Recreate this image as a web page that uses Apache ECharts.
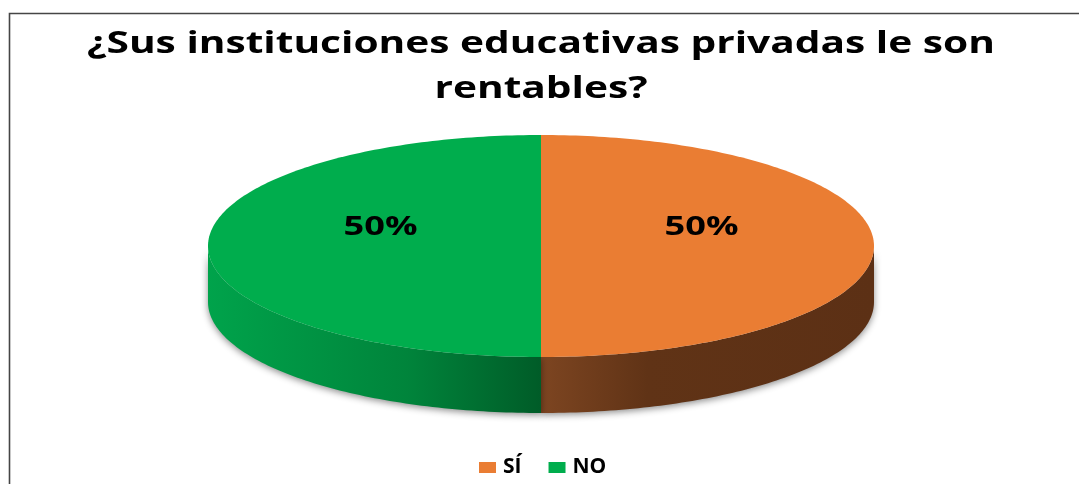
<!DOCTYPE html>
<html>
<head>
<meta charset="utf-8">
<script src="https://cdn.jsdelivr.net/npm/echarts@6/dist/echarts.min.js"></script>
<style>
  html, body { margin: 0; padding: 0; background: #ffffff; }
  #chart { width: 1079px; height: 484px; }
</style>
</head>
<body>
<div id="chart"></div>
<script>
// Survey answers
const titleLines = ['¿Sus instituciones educativas privadas le son', 'rentables?'];
const categories = ['SÍ', 'NO'];
const values = [50, 50];

// Palette: top face and side wall gradient stops for each answer
const topColors = ['#EA7D33', '#00AD4D'];
const sideStops = [
  ['#7D4521', '#603316', '#5C3015'],
  ['#00A34B', '#00843B', '#005C28']
];

// Tilted-disc geometry
const geo = { cx: 541, cy: 246, rx: 333, ry: 111, depth: 56 };
const FONT = '"Open Sans", "DejaVu Sans", sans-serif';
const STRETCH = 1.34;

function arcPoints(a0, a1, dy) {
  const pts = [];
  const n = Math.max(2, Math.ceil(Math.abs(a1 - a0) / (Math.PI / 180)));
  for (let k = 0; k <= n; k++) {
    const t = a0 + (a1 - a0) * k / n;
    pts.push([geo.cx + geo.rx * Math.cos(t), geo.cy + geo.ry * Math.sin(t) + dy]);
  }
  return pts;
}

function renderSlice(i, v) {
  const total = values.reduce((s, x) => s + x, 0);
  let before = 0;
  for (let k = 0; k < i; k++) before += values[k];
  const start = -Math.PI / 2 + 2 * Math.PI * before / total;
  const end = start + 2 * Math.PI * v / total;
  const children = [];

  // front wall: the part of the rim facing the viewer (angles 0..PI)
  const a = Math.max(start, 0), b = Math.min(end, Math.PI);
  if (b > a) {
    const upper = arcPoints(a, b, 0);
    const lower = arcPoints(b, a, geo.depth);
    const st = sideStops[i];
    children.push({
      type: 'polygon',
      z2: 1,
      shape: { points: upper.concat(lower) },
      style: {
        fill: {
          type: 'linear', x: 0, y: 0, x2: 1, y2: 0,
          colorStops: i === 0
            ? [{ offset: 0, color: st[0] }, { offset: 0.32, color: st[1] }, { offset: 1, color: st[2] }]
            : [{ offset: 0, color: st[0] }, { offset: 0.6, color: st[1] }, { offset: 1, color: st[2] }]
        },
        shadowColor: 'rgba(0,0,0,0.45)',
        shadowBlur: 7,
        shadowOffsetY: 2
      }
    });
  }

  // top face
  children.push({
    type: 'polygon',
    z2: 2,
    shape: { points: [[geo.cx, geo.cy]].concat(arcPoints(start, end, 0)) },
    style: { fill: topColors[i] }
  });

  // percentage label
  const mid = (start + end) / 2;
  children.push({
    type: 'text',
    z2: 3,
    x: geo.cx + 0.482 * geo.rx * Math.cos(mid),
    y: geo.cy + 0.482 * geo.ry * Math.sin(mid) - 19,
    scaleX: STRETCH,
    style: {
      text: Math.round(v / total * 100) + '%',
      align: 'center',
      verticalAlign: 'middle',
      font: 'bold 27px ' + FONT,
      fill: '#000000'
    }
  });

  return { type: 'group', children };
}

const chart = echarts.init(document.getElementById('chart'), null, { renderer: 'canvas' });

chart.setOption({
  backgroundColor: '#ffffff',
  animation: false,
  legend: {
    data: categories,
    left: 479,
    top: 457,
    padding: 0,
    icon: 'rect',
    itemWidth: 17,
    itemHeight: 11,
    itemGap: 27,
    textStyle: { fontFamily: FONT, fontWeight: 'bold', fontSize: 21, color: '#000000', padding: [0, 0, 0, 2] }
  },
  graphic: [
    {
      type: 'rect',
      silent: true,
      shape: { x: 9.5, y: 13.5, width: 1200, height: 600 },
      style: { fill: 'none', stroke: '#454545', lineWidth: 1.6 }
    },
    {
      type: 'text',
      x: 541, y: 44,
      scaleX: 1.355,
      style: {
        text: titleLines[0], align: 'center', verticalAlign: 'middle',
        font: 'bold 30px ' + FONT, fill: '#000000'
      }
    },
    {
      type: 'text',
      x: 541, y: 89,
      scaleX: 1.355,
      style: {
        text: titleLines[1], align: 'center', verticalAlign: 'middle',
        font: 'bold 30px ' + FONT, fill: '#000000'
      }
    }
  ],
  series: categories.map((name, i) => ({
    type: 'custom',
    name: name,
    coordinateSystem: 'none',
    silent: true,
    itemStyle: { color: topColors[i] },
    data: [values[i]],
    renderItem: (params, api) => renderSlice(i, api.value(0))
  }))
});
</script>
</body>
</html>
